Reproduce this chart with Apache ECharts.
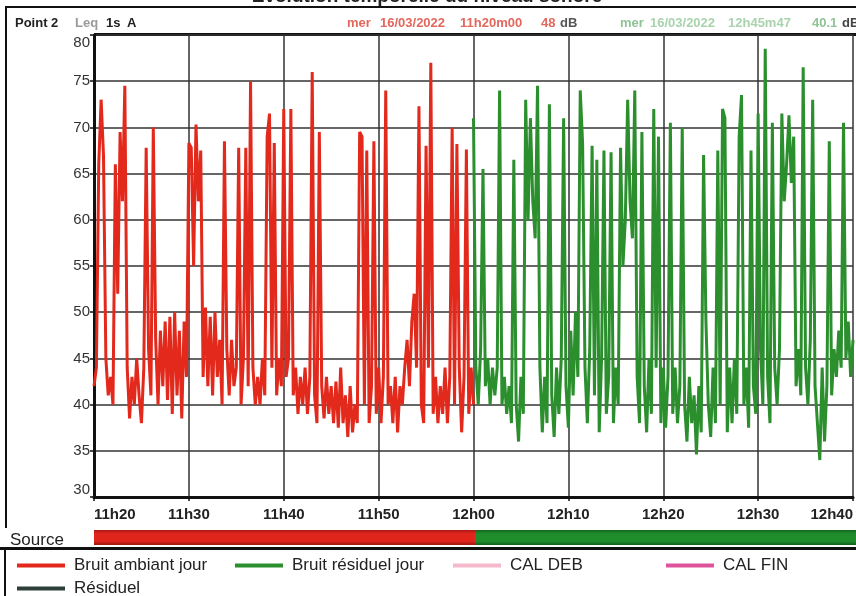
<!DOCTYPE html>
<html><head><meta charset="utf-8">
<script src="https://cdn.jsdelivr.net/npm/echarts@6/dist/echarts.min.js"></script>
<style>html,body{margin:0;padding:0;background:#fff}#c{width:856px;height:596px}</style>
</head><body><div id="c"></div>
<script>
// ---- data (minutes after 11h20, one reading every STEP_MIN) ----
const STEP_MIN = 0.25;
const AMBIANT_START_MIN = 0;
const RESIDUEL_START_MIN = 40;
const ambiantValues = [
  42,44,66,73,67,45,41,43,40,66,
  52,69.5,62,74.5,44,38.5,43,40,45,41,
  38,44,67.8,46,41,70,47,40,48,42,
  49,40.5,49.5,39,50,41,48,38.5,49,43,
  68.3,67.8,55,70.3,62,67.5,43,50.5,42,49.5,
  41,50,43,47,40,68.5,46,41,47,42,
  44,67.8,40,45,67.8,42,75,44,40,43,
  40,45,41,69,71.5,44,68.3,41,45,42,
  72,43,45,72,41,44,39,43,40,44,
  39,43,76,41,38,69.5,42,38.5,43,39,
  42,38,42.5,37.5,44,38,41,36.5,42,37,
  40,38,69.5,69,40,67.5,38,42,68.5,39,
  44,38,43,74,40,42,38,43,37,42,
  40,44,47,42,49,52,44,72.3,40,38,
  68,44,77,39,43,38,42,39,44,38,
  43,70,40,68.2,44,37,43,67.6,39,44,40
];
const residuelValues = [
  71,44,40,46,65.5,42,45,40,44,41,
  44,74,40,43,39,42,38,66.5,40,36,
  43,39,73,60,71,62,58,74.5,44,37,
  43,38,72.5,41,36.5,44,39,45,71,42,
  37.5,48,41,50,43,74,68.3,44,38,46,
  68,41,66.5,37,45,67.5,39,43,67.3,38,
  44,40,67.8,55,60,73,62,58,74,43,
  38,69.5,42,37,45,39,72,44,69,38,
  44,37.5,43,70.5,39,44,38,42,70,40,
  36,43,38,41,34.6,42,37,67,49,40,
  36.5,44,38,67.5,40,72,71,37,44,38,
  45,39,69,73.5,40,44,37.5,67.5,42,39,
  71.5,46,40,78.5,43,38,70.5,44,40,46,
  71.5,62,66,71.3,64,69,42,46,41,76.5,
  44,40,47,73,42,38,34,44,36,42,
  68.5,41,46,43,48,44,70.5,45,49,43,47
];
const xTickLabels = ['11h20','11h30','11h40','11h50','12h00','12h10','12h20','12h30','12h40'];
const yTicks = [30,35,40,45,50,55,60,65,70,75,80];
const seriesNames = ['Bruit ambiant jour','Bruit résiduel jour','CAL DEB','CAL FIN','Résiduel'];
const sourceDurations = [40, 40];

// ---- chart ----
const FONT = '"Liberation Sans", Arial, sans-serif';
const RED = '#e2291c', GREEN = '#2b8f2e', PINK = '#f6b9cc', MAGENTA = '#df539b', DARK = '#2f3f39';
const toPts = (vals, start) => vals.map((v, i) => [start + i * STEP_MIN, v]);

const chart = echarts.init(document.getElementById('c'), null, {renderer: 'canvas'});

function lg(name, left, top) {
  return {data: [name], left: left, top: top, icon: 'rect', itemWidth: 48, itemHeight: 4,
    padding: 0, itemGap: 0, selectedMode: false,
    textStyle: {fontSize: 17, color: '#222', fontFamily: FONT, padding: [0, 0, 0, 4]}};
}
function txt(s, x, y, font, fill, align) {
  return {type: 'text', x: x, y: y, silent: true,
    style: {text: s, font: font, fill: fill, align: align || 'left', verticalAlign: 'middle'}};
}
function ln(x1, y1, x2, y2, w) {
  return {type: 'line', silent: true, shape: {x1: x1, y1: y1, x2: x2, y2: y2},
    style: {stroke: '#111', lineWidth: w}};
}
const HB = 'bold 13px ' + FONT;

chart.setOption({
  animation: false,
  backgroundColor: '#fff',
  grid: [
    {left: 94, top: 35, width: 768, height: 462},
    {left: 94, top: 530, width: 768, height: 15}
  ],
  xAxis: [
    {gridIndex: 0, type: 'value', min: 0, max: 80, interval: 10,
      axisLine: {show: true, lineStyle: {color: '#111', width: 3}},
      axisTick: {show: true, length: 4, lineStyle: {color: '#111', width: 1.5}},
      axisLabel: {formatter: v => xTickLabels[Math.round(v / 10)], fontSize: 15, fontWeight: 'bold',
        color: '#222', fontFamily: FONT, margin: 10, alignMinLabel: 'left', alignMaxLabel: 'right'},
      splitLine: {show: true, lineStyle: {color: '#333', width: 1.5}}},
    {gridIndex: 1, type: 'value', min: 0, max: 80, show: false}
  ],
  yAxis: [
    {gridIndex: 0, type: 'value', min: yTicks[0], max: yTicks[yTicks.length - 1], interval: 5,
      axisLine: {show: true, lineStyle: {color: '#111', width: 3}},
      axisTick: {show: true, length: 4, lineStyle: {color: '#111', width: 1.5}},
      axisLabel: {fontSize: 15, color: '#333', fontFamily: FONT, margin: 4,
        verticalAlignMinLabel: 'bottom', verticalAlignMaxLabel: 'top'},
      splitLine: {show: true, lineStyle: {color: '#333', width: 1.5}}},
    {gridIndex: 1, type: 'category', data: ['Source'], show: false}
  ],
  legend: [
    lg(seriesNames[0], 17, 557),
    lg(seriesNames[1], 235, 557),
    lg(seriesNames[2], 453, 557),
    lg(seriesNames[3], 666, 557),
    lg(seriesNames[4], 17, 580)
  ],
  series: [
    {name: seriesNames[0], type: 'line', data: toPts(ambiantValues, AMBIANT_START_MIN), color: RED,
      showSymbol: false, lineStyle: {width: 3, color: RED}, z: 3},
    {name: seriesNames[1], type: 'line', data: toPts(residuelValues, RESIDUEL_START_MIN), color: GREEN,
      showSymbol: false, lineStyle: {width: 3, color: GREEN}, z: 3},
    {name: seriesNames[2], type: 'line', data: [], color: PINK, lineStyle: {color: PINK}},
    {name: seriesNames[3], type: 'line', data: [], color: MAGENTA, lineStyle: {color: MAGENTA}},
    {name: seriesNames[4], type: 'line', data: [], color: DARK, lineStyle: {color: DARK}},
    {name: 'srcA', type: 'bar', xAxisIndex: 1, yAxisIndex: 1, stack: 'src', barWidth: '100%', silent: true,
      data: [sourceDurations[0]],
      itemStyle: {color: new echarts.graphic.LinearGradient(0, 0, 0, 1, [
        {offset: 0, color: '#a81a14'}, {offset: 0.25, color: '#e0251c'},
        {offset: 0.75, color: '#e0251c'}, {offset: 1, color: '#9a1510'}])}},
    {name: 'srcB', type: 'bar', xAxisIndex: 1, yAxisIndex: 1, stack: 'src', barWidth: '100%', silent: true,
      data: [sourceDurations[1]],
      itemStyle: {color: new echarts.graphic.LinearGradient(0, 0, 0, 1, [
        {offset: 0, color: '#15661f'}, {offset: 0.25, color: '#1f8d2c'},
        {offset: 0.75, color: '#1f8d2c'}, {offset: 1, color: '#135c1c'}])}}
  ],
  graphic: [
    {type: 'text', x: 427, y: 6, silent: true,
      style: {text: 'Evolution temporelle du niveau sonore', font: 'bold 19px ' + FONT, fill: '#222',
        align: 'center', verticalAlign: 'bottom'}},
    ln(5, 7, 856, 7, 2),
    ln(6, 7, 6, 528, 2),
    ln(94, 34.5, 856, 34.5, 3),
    ln(0, 548.5, 856, 548.5, 3),
    ln(5, 549, 5, 596, 2),
    txt('Point 2', 15, 23, HB, '#222'),
    txt('Leq', 75, 23, HB, '#9a9a9a'),
    txt('1s', 106, 23, HB, '#222'),
    txt('A', 127, 23, HB, '#222'),
    txt('mer', 347, 23, HB, '#e2685e'),
    txt('16/03/2022', 380, 23, HB, '#e2685e'),
    txt('11h20m00', 460, 23, HB, '#e2685e'),
    txt('48', 541, 23, HB, '#e2685e'),
    txt('dB', 560, 23, HB, '#555'),
    txt('mer', 620, 23, HB, '#8fc495'),
    txt('16/03/2022', 650, 23, HB, '#a9d3ad'),
    txt('12h45m47', 728, 23, HB, '#a9d3ad'),
    txt('40.1', 812, 23, HB, '#8fc495'),
    txt('dB', 842, 23, HB, '#444'),
    txt('Source', 10, 540, '17px ' + FONT, '#222')
  ]
});
</script>
</body></html>
